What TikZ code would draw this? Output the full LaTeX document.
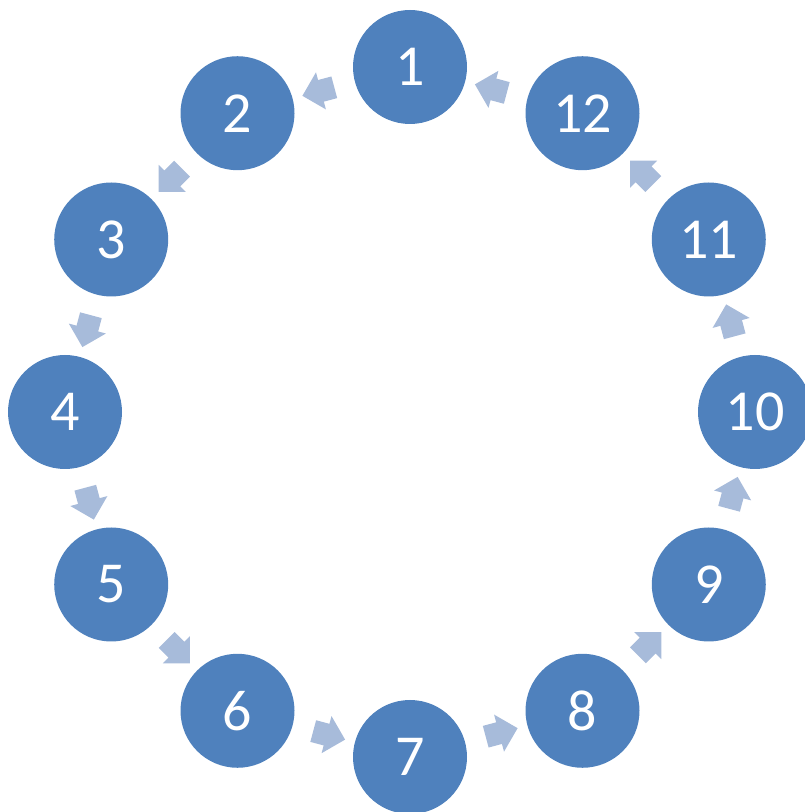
\documentclass[tikz,border=0pt]{standalone}
\usepackage{fontspec}
\setmainfont{Carlito}
\definecolor{ringblue}{RGB}{79, 129, 189}
\definecolor{arrowblue}{RGB}{167, 187, 218}
\usetikzlibrary{shapes.arrows, calc}

\begin{document}
\begin{tikzpicture}[x=1pt, y=1pt,
  stepcircle/.style={circle, fill=ringblue, minimum size=114pt, inner sep=0pt,
    text=white, font=\fontsize{58}{70}\selectfont},
  flowarrow/.style={single arrow, fill=arrowblue, inner xsep=0pt, inner ysep=11pt,
    minimum height=33pt, single arrow head extend=8pt,
    sloped, allow upside down}]
  \useasboundingbox (0,0) rectangle (804,812);
  % the twelve circles, counterclockwise from the top
  \foreach \n in {1,...,12}
    \node[stepcircle] (c\n) at ({410+345*cos(90+30*(\n-1))},{400+345*sin(90+30*(\n-1))}) {\n};
  % arrows from each circle to the next
  \foreach \n [evaluate=\n as \m using {int(mod(\n,12)+1)}] in {1,...,12}
    \path (c\n) -- node[flowarrow] {} (c\m);
\end{tikzpicture}
\end{document}
